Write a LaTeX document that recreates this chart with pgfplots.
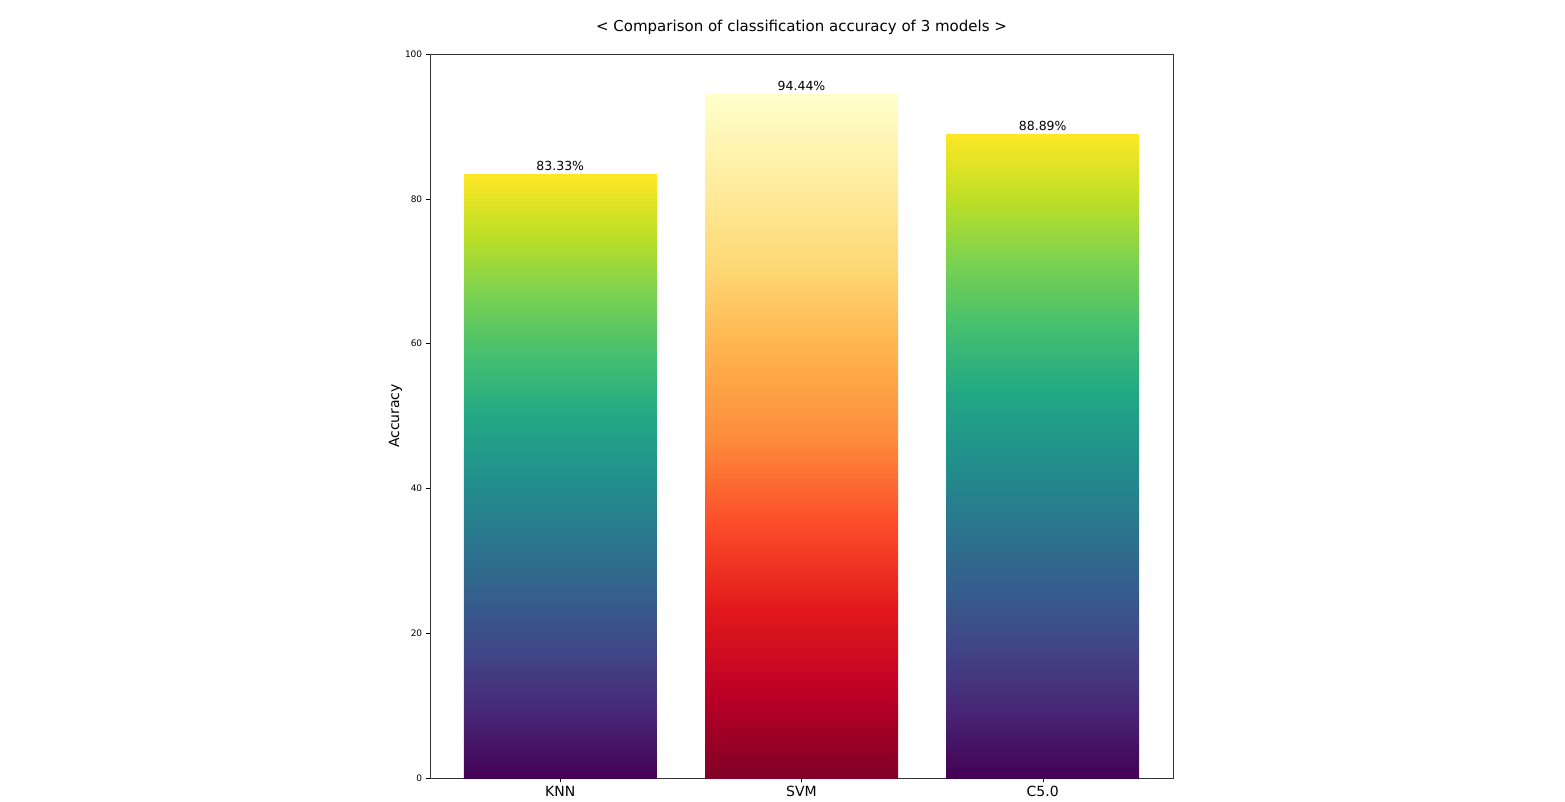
\documentclass[border=0pt]{standalone}
\usepackage{pgfplots}
\pgfplotsset{compat=1.18}
\usepackage{fontspec}
\setmainfont{DejaVu Sans}
\definecolor{v0}{HTML}{440154}\definecolor{v1}{HTML}{482475}\definecolor{v2}{HTML}{414487}
\definecolor{v3}{HTML}{355F8D}\definecolor{v4}{HTML}{2A788E}\definecolor{v5}{HTML}{21918C}
\definecolor{v6}{HTML}{22A884}\definecolor{v7}{HTML}{44BF70}\definecolor{v8}{HTML}{7AD151}
\definecolor{v9}{HTML}{BDDF26}\definecolor{v10}{HTML}{FDE725}
\definecolor{r0}{HTML}{800026}\definecolor{r1}{HTML}{BD0026}\definecolor{r2}{HTML}{E31A1C}
\definecolor{r3}{HTML}{FC4E2A}\definecolor{r4}{HTML}{FD8D3C}\definecolor{r5}{HTML}{FEB24C}
\definecolor{r6}{HTML}{FED976}\definecolor{r7}{HTML}{FFEDA0}\definecolor{r8}{HTML}{FFFFCC}
\pgfdeclareverticalshading{viridis}{100bp}{color(0bp)=(v0); color(25bp)=(v0); color(30bp)=(v1); color(35bp)=(v2); color(40bp)=(v3); color(45bp)=(v4); color(50bp)=(v5); color(55bp)=(v6); color(60bp)=(v7); color(65bp)=(v8); color(70bp)=(v9); color(75bp)=(v10); color(100bp)=(v10)}
\pgfdeclareverticalshading{ylorrd}{100bp}{color(0bp)=(r0); color(25bp)=(r0); color(31.25bp)=(r1); color(37.5bp)=(r2); color(43.75bp)=(r3); color(50bp)=(r4); color(56.25bp)=(r5); color(62.5bp)=(r6); color(68.75bp)=(r7); color(75bp)=(r8); color(100bp)=(r8)}
\begin{document}
\begin{tikzpicture}[x=1pt,y=1pt]
\useasboundingbox (0,0) rectangle (1565,801);
\begin{axis}[at={(430pt,23pt)}, anchor=south west, scale only axis,
  width=743pt, height=724pt,
  xmin=-0.54, xmax=2.54, ymin=0, ymax=100,
  xtick={0,1,2}, xticklabels={KNN,SVM,C5.0},
  ytick={0,20,40,60,80,100},
  tick label style={font=\fontsize{9}{10}\selectfont},
  xticklabel style={font=\fontsize{14}{16}\selectfont},
  tick align=outside, tick style={black},
  xtick pos=bottom, ytick pos=left,
  /pgf/number format/assume math mode=true,
  ylabel={Accuracy}, ylabel style={font=\fontsize{14}{16}\selectfont, yshift=-4pt},
  title={< Comparison of classification accuracy of 3 models >},
  title style={font=\fontsize{15}{18}\selectfont, yshift=10pt},
  axis line style={black!80},
  nodes near coords style={font=\fontsize{12.5}{14}\selectfont, black},
  ybar, bar width=0.8, bar shift=0pt]
\addplot[draw=none, shading=viridis, nodes near coords={83.33\%}] coordinates {(0,83.33)};
\addplot[draw=none, shading=ylorrd, nodes near coords={94.44\%}] coordinates {(1,94.44)};
\addplot[draw=none, shading=viridis, nodes near coords={88.89\%}] coordinates {(2,88.89)};
\end{axis}
\end{tikzpicture}
\end{document}
